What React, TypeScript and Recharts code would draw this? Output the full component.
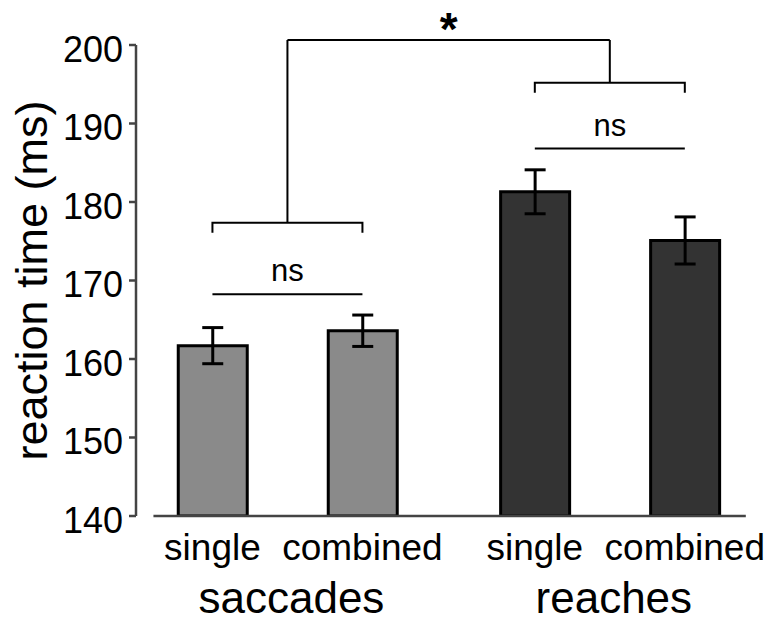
import { Bar, BarChart, Cell, ErrorBar, Label, ReferenceLine, XAxis, YAxis } from "recharts";

// group means (ms)
const groups = ["saccades", "reaches"];
const conditions = ["single", "combined"];
const singleRT = [161.7, 181.3];
const combinedRT = [163.6, 175.1];
const singleSE = [2.3, 2.8];
const combinedSE = [2.0, 3.0];
const yTicks = [140, 150, 160, 170, 180, 190, 200];

// significance annotations, in ms
const nsLevel = [168.25, 186.8];
const bracketLevel = [177.35, 195.2];
const topLevel = 200.65;

const data = groups.map((g, i) => ({
  group: g,
  single: singleRT[i],
  combined: combinedRT[i],
  singleSE: singleSE[i],
  combinedSE: combinedSE[i],
}));

const FONT = '"Liberation Sans", Arial, sans-serif';
const GROUP_FILL = ["#8a8a8a", "#333333"];
const AXIS = "#444";
const BAR_SIZE = 69;
const BAR_GAP = 81;
const HALF = (BAR_SIZE + BAR_GAP) / 2; // bar centre offset from group centre
const DROP = 10;

function GroupTick(props: any) {
  const { x, y, payload } = props;
  return (
    <g>
      {conditions.map((c, i) => (
        <text
          key={c}
          x={x + (i === 0 ? -HALF : HALF)}
          y={y + 44}
          textAnchor="middle"
          fontSize={37}
          fontFamily={FONT}
          fill="#000"
        >
          {c}
        </text>
      ))}
      <text x={x + 4} y={y + 97} textAnchor="middle" fontSize={44} fontFamily={FONT} fill="#000">
        {payload.value}
      </text>
    </g>
  );
}

const bracket = (p: any) => {
  const c = p.x1;
  const base = Math.max(p.y1, p.y2);
  const top = Math.min(p.y1, p.y2);
  return (
    <path
      d={`M${c - HALF},${base + DROP}V${base}H${c + HALF}V${base + DROP}M${c},${base}V${top}`}
      stroke="#000"
      strokeWidth={2}
      fill="none"
    />
  );
};

const starLine = (p: any) => (
  <g>
    <line x1={p.x1} y1={p.y1} x2={p.x2} y2={p.y2} stroke="#000" strokeWidth={2} />
    <text
      x={(p.x1 + p.x2) / 2}
      y={p.y1 + 5}
      textAnchor="middle"
      fontSize={46}
      fontWeight="bold"
      fontFamily={FONT}
      fill="#000"
    >
      *
    </text>
  </g>
);

const nsLine = (p: any) => (
  <g>
    <line x1={p.x1 - HALF} y1={p.y1} x2={p.x1 + HALF} y2={p.y1} stroke="#000" strokeWidth={2} />
    <text x={p.x1} y={p.y1 - 13} textAnchor="middle" fontSize={31} fontFamily={FONT} fill="#000">
      ns
    </text>
  </g>
);

const baseLine = (p: any) => (
  <line x1={p.x1 - 134} y1={p.y1} x2={p.x2 + 136} y2={p.y2} stroke={AXIS} strokeWidth={2.5} />
);

export default function App() {
  return (
    <div style={{ position: "absolute", left: 0, top: 0, background: "#fff" }}>
      <BarChart
        width={771}
        height={622}
        data={data}
        margin={{ top: 45, right: 0, bottom: 0, left: 0 }}
        barSize={BAR_SIZE}
        barGap={BAR_GAP}
      >
        <XAxis
          dataKey="group"
          height={106}
          axisLine={false}
          tickLine={false}
          tickSize={0}
          tickMargin={0}
          interval={0}
          padding={{ left: -9.75, right: 0 }}
          tick={<GroupTick />}
        />
        <YAxis
          domain={[140, 200]}
          ticks={yTicks}
          allowDataOverflow
          width={136}
          tickSize={7}
          tickMargin={6}
          axisLine={{ stroke: AXIS, strokeWidth: 2.5 }}
          tickLine={{ stroke: AXIS, strokeWidth: 2.5 }}
          tick={{ fontSize: 36, fill: "#000", fontFamily: FONT, dy: 4 }}
        >
          <Label
            content={(props: any) => {
              const vb = props.viewBox;
              const cy = vb.y + vb.height / 2;
              return (
                <text
                  x={47}
                  y={cy}
                  transform={`rotate(-90 47 ${cy})`}
                  textAnchor="middle"
                  fontSize={45}
                  fontFamily={FONT}
                  fill="#000"
                >
                  reaction time (ms)
                </text>
              );
            }}
          />
        </YAxis>
        <Bar dataKey="single" stroke="#000" strokeWidth={3} isAnimationActive={false}>
          {data.map((d, i) => (
            <Cell key={d.group} fill={GROUP_FILL[i]} />
          ))}
          <ErrorBar dataKey="singleSE" width={10.5} stroke="#000" strokeWidth={3} />
        </Bar>
        <Bar dataKey="combined" stroke="#000" strokeWidth={3} isAnimationActive={false}>
          {data.map((d, i) => (
            <Cell key={d.group} fill={GROUP_FILL[i]} />
          ))}
          <ErrorBar dataKey="combinedSE" width={10.5} stroke="#000" strokeWidth={3} />
        </Bar>
        <ReferenceLine
          ifOverflow="visible"
          segment={[{ x: groups[0], y: 140 }, { x: groups[1], y: 140 }]}
          shape={baseLine}
        />
        {groups.map((g, i) => (
          <ReferenceLine
            key={`ns-${g}`}
            ifOverflow="visible"
            segment={[{ x: g, y: nsLevel[i] }, { x: g, y: nsLevel[i] }]}
            shape={nsLine}
          />
        ))}
        {groups.map((g, i) => (
          <ReferenceLine
            key={`br-${g}`}
            ifOverflow="visible"
            segment={[{ x: g, y: bracketLevel[i] }, { x: g, y: topLevel }]}
            shape={bracket}
          />
        ))}
        <ReferenceLine
          ifOverflow="visible"
          segment={[{ x: groups[0], y: topLevel }, { x: groups[1], y: topLevel }]}
          shape={starLine}
        />
      </BarChart>
    </div>
  );
}
